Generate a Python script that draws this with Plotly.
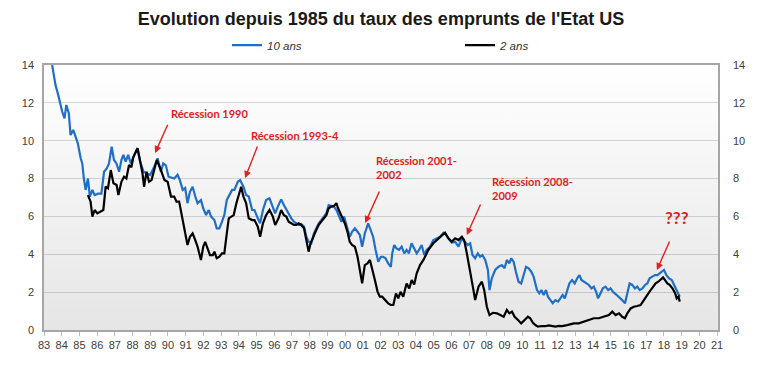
import plotly.graph_objects as go

# ---------------- data ----------------
dates_10 = [
    1983.46, 1983.65, 1983.78, 1983.93, 1984.03, 1984.16, 1984.26, 1984.40, 1984.50, 1984.65,
    1984.78, 1984.91, 1985.07, 1985.16, 1985.25, 1985.35, 1985.48, 1985.59, 1985.73, 1985.86,
    1986.05, 1986.24, 1986.39, 1986.54, 1986.67, 1986.82, 1986.95, 1987.09, 1987.24, 1987.37,
    1987.48, 1987.61, 1987.75, 1987.90, 1988.05, 1988.28, 1988.43, 1988.62, 1988.80, 1988.99,
    1989.18, 1989.41, 1989.60, 1989.73, 1989.88, 1990.03, 1990.35, 1990.54, 1990.67, 1990.83,
    1990.97, 1991.10, 1991.24, 1991.39, 1991.54, 1991.67, 1991.86, 1991.99, 1992.15, 1992.30,
    1992.43, 1992.62, 1992.75, 1992.90, 1993.05, 1993.18, 1993.32, 1993.46, 1993.62, 1993.75,
    1993.94, 1994.07, 1994.26, 1994.41, 1994.56, 1994.75, 1994.88, 1995.07, 1995.20, 1995.36,
    1995.54, 1995.73, 1995.92, 1996.05, 1996.20, 1996.39, 1996.54, 1996.68, 1996.81, 1996.96,
    1997.11, 1997.24, 1997.37, 1997.52, 1997.68, 1997.81, 1997.94, 1998.09, 1998.24, 1998.37,
    1998.51, 1998.66, 1998.81, 1998.94, 1999.07, 1999.22, 1999.37, 1999.51, 1999.64, 1999.79,
    1999.94, 2000.13, 2000.26, 2000.39, 2000.55, 2000.70, 2000.83, 2000.96, 2001.11, 2001.30,
    2001.45, 2001.58, 2001.72, 2001.87, 2002.02, 2002.15, 2002.28, 2002.43, 2002.58, 2002.66,
    2002.77, 2002.90, 2003.04, 2003.19, 2003.34, 2003.47, 2003.60, 2003.75, 2003.90, 2004.04,
    2004.17, 2004.32, 2004.47, 2004.60, 2004.79, 2004.98, 2005.17, 2005.36, 2005.55, 2005.70,
    2005.83, 2006.02, 2006.21, 2006.40, 2006.58, 2006.77, 2006.92, 2007.06, 2007.19, 2007.34,
    2007.49, 2007.62, 2007.75, 2007.91, 2008.06, 2008.15, 2008.28, 2008.47, 2008.66, 2008.85,
    2009.00, 2009.13, 2009.27, 2009.38, 2009.51, 2009.64, 2009.79, 2009.94, 2010.08, 2010.21,
    2010.36, 2010.51, 2010.64, 2010.74, 2010.83, 2010.96, 2011.08, 2011.21, 2011.34, 2011.45,
    2011.59, 2011.72, 2011.87, 2012.02, 2012.15, 2012.28, 2012.40, 2012.53, 2012.66, 2012.81,
    2012.96, 2013.10, 2013.23, 2013.34, 2013.47, 2013.61, 2013.76, 2013.91, 2014.04, 2014.17,
    2014.28, 2014.42, 2014.55, 2014.70, 2014.85, 2014.98, 2015.12, 2015.27, 2015.46, 2015.64,
    2015.80, 2015.93, 2016.06, 2016.21, 2016.36, 2016.49, 2016.63, 2016.78, 2016.93, 2017.06,
    2017.19, 2017.34, 2017.49, 2017.63, 2017.76, 2017.91, 2018.00, 2018.14, 2018.29, 2018.44,
    2018.57, 2018.70, 2018.82, 2018.89,
]
taux_10 = [
    14.0, 12.94, 12.5, 11.8, 11.53, 11.18, 11.89, 11.45, 10.3, 10.57,
    10.21, 9.86, 9.07, 8.8, 8.0, 7.4, 8.0, 7.05, 7.4, 7.13,
    7.2, 7.2, 8.36, 8.54, 8.8, 9.68, 8.98, 8.8, 8.36, 8.98,
    9.25, 8.9, 9.25, 8.8, 9.15, 9.6, 8.9, 8.36, 8.28, 8.19,
    8.54, 9.07, 8.36, 8.8, 8.7, 8.1, 8.0, 8.2, 7.92, 7.4,
    7.5, 6.7, 7.3, 7.57, 7.05, 6.7, 6.87, 6.43, 6.07, 6.34,
    5.99, 5.81, 5.37, 5.37, 5.72, 6.07, 6.87, 7.13, 7.4, 7.4,
    7.83, 7.92, 7.57, 7.13, 7.05, 6.34, 6.34, 5.9, 5.64, 6.34,
    6.87, 6.96, 6.43, 6.16, 6.52, 6.9, 6.6, 6.34, 6.16, 5.9,
    5.72, 5.64, 5.55, 5.6, 5.46, 4.93, 4.66, 4.58, 5.1, 5.37,
    5.64, 5.81, 5.99, 6.16, 6.6, 6.55, 6.52, 6.34, 6.07, 5.72,
    5.99, 5.28, 4.93, 5.19, 5.37, 5.19, 5.02, 4.4, 5.1, 5.63,
    5.2, 4.93, 4.23, 3.61, 3.87, 3.87, 3.79, 3.52, 3.34, 4.05,
    4.49, 4.31, 4.23, 4.4, 4.05, 4.23, 4.05, 4.58, 4.31, 4.05,
    4.23, 4.49, 3.96, 4.23, 4.4, 4.75, 4.84, 4.93, 5.14, 5.02,
    4.84, 4.61, 4.66, 4.4, 4.84, 4.66, 4.49, 4.58, 3.96, 3.79,
    4.05, 3.87, 3.96, 3.7, 3.17, 2.11, 2.73, 3.17, 3.34, 3.43,
    3.26, 3.7, 3.52, 3.79, 3.61, 3.08, 2.55, 2.46, 2.9, 3.34,
    3.26, 3.08, 2.82, 2.38, 2.11, 1.94, 2.11, 1.85, 2.11, 1.76,
    1.58, 1.41, 1.58, 1.5, 1.67, 1.85, 1.67, 2.11, 2.46, 2.64,
    2.46, 2.73, 2.9, 2.64, 2.55, 2.46, 2.38, 2.2, 2.29, 2.02,
    1.67, 1.94, 2.2, 2.29, 2.11, 2.2, 2.02, 1.9, 1.76, 1.58,
    1.41, 1.94, 2.46, 2.38, 2.2, 2.29, 2.11, 2.2, 2.38, 2.46,
    2.73, 2.82, 2.9, 2.9, 2.99, 3.08, 3.17, 2.9, 2.73, 2.64,
    2.38, 2.11, 1.94, 1.76,
]

dates_2 = [
    1985.48, 1985.63, 1985.73, 1985.86, 1986.01, 1986.20, 1986.35, 1986.48, 1986.61, 1986.77,
    1986.92, 1987.10, 1987.20, 1987.37, 1987.52, 1987.65, 1987.80, 1987.93, 1988.05, 1988.28,
    1988.43, 1988.56, 1988.65, 1988.79, 1988.93, 1989.07, 1989.22, 1989.37, 1989.60, 1989.80,
    1989.98, 1990.17, 1990.35, 1990.48, 1990.63, 1990.78, 1990.91, 1991.10, 1991.24, 1991.39,
    1991.54, 1991.67, 1991.86, 1991.99, 1992.10, 1992.24, 1992.37, 1992.53, 1992.62, 1992.75,
    1992.90, 1993.05, 1993.18, 1993.32, 1993.43, 1993.58, 1993.71, 1993.86, 1994.00, 1994.13,
    1994.26, 1994.41, 1994.56, 1994.75, 1994.88, 1995.07, 1995.20, 1995.36, 1995.54, 1995.73,
    1995.92, 1996.05, 1996.24, 1996.39, 1996.54, 1996.68, 1996.81, 1996.96, 1997.11, 1997.24,
    1997.37, 1997.52, 1997.68, 1997.81, 1997.94, 1998.05, 1998.19, 1998.37, 1998.51, 1998.66,
    1998.81, 1998.94, 1999.07, 1999.22, 1999.37, 1999.51, 1999.60, 1999.79, 1999.98, 2000.13,
    2000.26, 2000.39, 2000.55, 2000.70, 2000.83, 2000.96, 2001.11, 2001.26, 2001.40, 2001.53,
    2001.68, 2001.83, 2001.96, 2002.09, 2002.24, 2002.43, 2002.58, 2002.72, 2002.87, 2003.00,
    2003.13, 2003.28, 2003.47, 2003.62, 2003.76, 2003.90, 2004.04, 2004.23, 2004.42, 2004.70,
    2004.98, 2005.17, 2005.36, 2005.55, 2005.64, 2005.83, 2006.02, 2006.21, 2006.40, 2006.59,
    2006.72, 2006.87, 2007.06, 2007.21, 2007.34, 2007.53, 2007.72, 2007.85, 2008.00, 2008.15,
    2008.34, 2008.57, 2008.76, 2008.95, 2009.13, 2009.27, 2009.42, 2009.57, 2009.76, 2009.94,
    2010.13, 2010.32, 2010.45, 2010.59, 2010.74, 2010.89, 2011.11, 2011.30, 2011.49, 2011.68,
    2011.87, 2012.06, 2012.25, 2012.53, 2012.72, 2012.91, 2013.19, 2013.47, 2013.76, 2014.04,
    2014.32, 2014.61, 2014.89, 2015.08, 2015.27, 2015.46, 2015.64, 2015.80, 2015.93, 2016.12,
    2016.30, 2016.49, 2016.68, 2016.81, 2016.97, 2017.12, 2017.25, 2017.38, 2017.53, 2017.68,
    2017.81, 2017.95, 2018.06, 2018.19, 2018.32, 2018.48, 2018.63, 2018.72, 2018.82, 2018.89,
]
taux_2 = [
    7.13, 6.78, 5.99, 6.34, 6.16, 6.25, 6.34, 7.57, 7.48, 8.45,
    7.75, 7.66, 7.13, 7.83, 8.1, 8.0, 8.72, 8.6, 9.15, 9.6,
    8.9, 8.28, 7.57, 8.36, 7.83, 7.92, 8.45, 8.98, 8.45, 7.92,
    7.83, 7.05, 7.05, 6.78, 6.78, 6.07, 5.46, 4.49, 4.93, 5.1,
    4.75, 4.4, 3.7, 4.4, 4.66, 4.31, 3.96, 3.96, 4.14, 3.79,
    3.87, 4.05, 4.05, 5.1, 5.9, 5.99, 6.07, 6.7, 7.22, 7.57,
    7.05, 6.7, 5.9, 5.81, 5.81, 5.46, 4.93, 5.64, 6.07, 6.34,
    5.99, 5.55, 5.9, 6.34, 6.07, 5.99, 5.72, 5.64, 5.55, 5.55,
    5.64, 5.55, 5.37, 4.75, 4.14, 4.58, 4.93, 5.28, 5.55, 5.72,
    5.9, 6.07, 6.43, 6.52, 6.55, 6.7, 6.43, 6.07, 5.64, 5.19,
    4.66, 4.49, 4.4, 3.87, 3.17, 2.47, 3.43, 3.52, 3.7, 3.26,
    2.64, 2.03, 1.76, 1.76, 1.58, 1.41, 1.32, 1.32, 1.93, 1.67,
    2.02, 1.76, 2.46, 2.2, 2.64, 2.4, 3.0, 3.43, 3.7, 4.23,
    4.58, 4.75, 4.93, 5.1, 5.14, 4.84, 4.66, 4.84, 4.75, 4.93,
    4.75, 4.05, 3.17, 2.29, 1.58, 2.29, 2.55, 2.11, 1.23, 0.79,
    0.91, 0.88, 0.79, 0.7, 1.06, 0.88, 0.97, 0.7, 0.53, 0.35,
    0.53, 0.7, 0.62, 0.39, 0.26, 0.18, 0.21, 0.2, 0.24, 0.19,
    0.18, 0.22, 0.21, 0.26, 0.32, 0.35, 0.35, 0.44, 0.53, 0.62,
    0.62, 0.7, 0.79, 0.97, 0.79, 0.88, 0.7, 0.62, 0.88, 1.14,
    1.23, 1.27, 1.32, 1.5, 1.76, 1.94, 2.11, 2.29, 2.46, 2.55,
    2.68, 2.78, 2.64, 2.46, 2.38, 2.2, 1.94, 1.67, 1.76, 1.5,
]

tick_years = list(range(1983, 2022))
tick_labels = ["83", "84", "85", "86", "87", "88", "89", "90", "91", "92",
               "93", "94", "95", "96", "97", "98", "99", "00", "01", "02",
               "03", "04", "05", "06", "07", "08", "09", "10", "11", "12",
               "13", "14", "15", "16", "17", "18", "19", "20", "21"]
y_ticks = [0, 2, 4, 6, 8, 10, 12, 14]

X_RANGE = [1983, 2021.05]
Y_RANGE = [0, 14]

# ---------------- figure ----------------
fig = go.Figure()

# soft vertical gradient of the plot background (transparent so grid shows through)
fig.add_trace(go.Scatter(
    x=[X_RANGE[0], X_RANGE[1], X_RANGE[1], X_RANGE[0], X_RANGE[0]],
    y=[Y_RANGE[0], Y_RANGE[0], Y_RANGE[1], Y_RANGE[1], Y_RANGE[0]],
    mode="none", fill="toself",
    fillgradient=dict(type="vertical",
                      colorscale=[[0, "rgba(0,0,0,0.10)"], [1, "rgba(0,0,0,0)"]]),
    hoverinfo="skip", showlegend=False,
))

fig.add_trace(go.Scatter(
    x=dates_10, y=taux_10, mode="lines", name="10 ans", legend="legend",
    line=dict(color="#1f6fc8", width=2.2),
))
# 2-year series drawn against the (identical) right-hand axis so that it is rendered
fig.add_trace(go.Scatter(
    x=dates_2, y=taux_2, mode="lines", name="2 ans", legend="legend2", yaxis="y2",
    line=dict(color="#000000", width=2.2),
))

red = "#e3201b"
ann_font = dict(family="Lato, Liberation Sans, sans-serif", size=11, color=red, weight="bold")

annotations = []
labels = [
    ("Récession 1990", 1992.37, 11.45, "center"),
    ("Récession 1993-4", 1997.17, 10.3, "center"),
    ("Récession 2001-<br>2002", 2001.63, 8.58, "left"),
    ("Récession 2008-<br>2009", 2008.18, 7.45, "left"),
]
for txt, x, y, anchor in labels:
    annotations.append(dict(text=txt, x=x, y=y, xref="x", yref="y", showarrow=False,
                            xanchor=anchor, yanchor="middle", align="left", font=ann_font))
annotations.append(dict(text="???", x=2018.73, y=5.92, xref="x", yref="y", showarrow=False,
                        font=dict(family="Lato, Liberation Sans, sans-serif", size=17,
                                  color=red, weight="bold")))
arrows = [
    (1989.27, 9.35, 1990.02, 10.92),
    (1994.35, 8.03, 1995.08, 9.77),
    (2001.13, 5.65, 2001.97, 7.4),
    (2006.87, 5.02, 2007.68, 6.71),
    (2017.6, 3.17, 2018.35, 4.75),
]
for hx, hy, tx, ty in arrows:
    annotations.append(dict(text="", x=hx, y=hy, ax=tx, ay=ty, xref="x", yref="y",
                            axref="x", ayref="y", showarrow=True, arrowhead=2,
                            arrowsize=1, arrowwidth=1.4, arrowcolor=red, standoff=0))

tick_font = dict(family="Liberation Sans, Arial, sans-serif", size=11, color="#404040")
leg_font = dict(family="Liberation Sans, Arial, sans-serif", size=11.5,
                color="#333333", style="italic")

fig.update_layout(
    width=760, height=369,
    margin=dict(l=44, r=42, t=65, b=39, autoexpand=False),
    paper_bgcolor="white", plot_bgcolor="white",
    title=dict(text="Evolution depuis 1985 du taux des emprunts de l'Etat US",
               x=0.5, xref="paper", xanchor="center", y=1 - 19 / 369, yanchor="middle",
               font=dict(family="Liberation Sans, Arial, sans-serif", size=18,
                         color="#1a1a1a", weight="bold")),
    showlegend=True,
    legend=dict(orientation="h", x=(227 - 44) / 674, xanchor="left", y=1.075,
                yanchor="middle", font=leg_font, bgcolor="rgba(0,0,0,0)"),
    legend2=dict(orientation="h", x=(460 - 44) / 674, xanchor="left", y=1.075,
                 yanchor="middle", font=leg_font, bgcolor="rgba(0,0,0,0)"),
    xaxis=dict(range=X_RANGE, tickmode="array", tickvals=tick_years, ticktext=tick_labels,
               showgrid=False, zeroline=False, showline=True, mirror=True,
               linecolor="#a6a6a6", linewidth=1.5, ticks="outside", ticklen=4,
               tickcolor="#bfbfbf", tickfont=tick_font, ticklabelstandoff=0),
    yaxis=dict(range=Y_RANGE, tickmode="array", tickvals=y_ticks,
               showgrid=True, gridcolor="#d9d9d9", gridwidth=1, zeroline=False,
               showline=True, mirror=True, linecolor="#a6a6a6", linewidth=1.5,
               ticks="", tickfont=tick_font, ticklabelstandoff=6),
    yaxis2=dict(range=Y_RANGE, tickmode="array", tickvals=y_ticks, overlaying="y",
                side="right", showgrid=False, zeroline=False, showline=False,
                ticks="", tickfont=tick_font, ticklabelstandoff=14),
    annotations=annotations,
)

fig.write_html("out.html", config={"displayModeBar": False},
               post_script="document.body.style.margin='0';")
